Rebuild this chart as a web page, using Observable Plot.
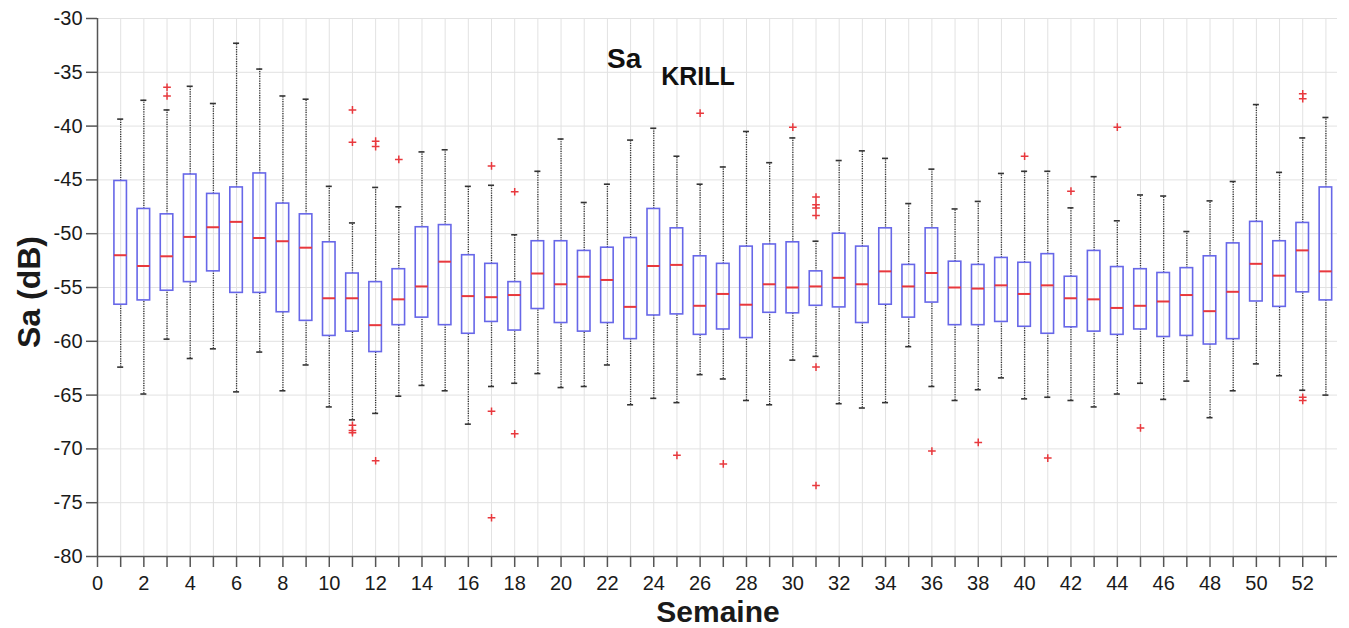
<!DOCTYPE html>
<html>
<head>
<meta charset="utf-8">
<script src="https://cdn.jsdelivr.net/npm/d3@7"></script>
<script src="https://cdn.jsdelivr.net/npm/@observablehq/plot@0.6"></script>
<style>
  html, body { margin: 0; padding: 0; background: #fff; }
  #chart { width: 1349px; height: 628px; }
</style>
</head>
<body>
<div id="chart"></div>
<script>
// ---- data ----
const weeks = d3.range(1, 54);
const whiskerHigh = [-39.35,-37.6,-38.5,-36.3,-37.9,-32.3,-34.7,-37.2,-37.5,-45.6,
  -49.0,-45.7,-47.5,-42.4,-42.2,-45.6,-45.5,-50.1,-44.2,-41.2,
  -47.1,-45.4,-41.3,-40.2,-42.8,-45.4,-43.8,-40.5,-43.4,-41.1,
  -50.7,-43.2,-42.3,-43.0,-47.2,-44.0,-47.7,-47.0,-44.4,-44.2,
  -44.2,-47.6,-44.7,-48.8,-46.4,-46.5,-49.8,-46.95,-45.15,-38.0,
  -44.3,-41.1,-39.2];
const q3 = [-45.1,-47.7,-48.2,-44.5,-46.3,-45.7,-44.4,-47.2,-48.2,-50.8,
  -53.7,-54.5,-53.3,-49.4,-49.2,-52.0,-52.8,-54.5,-50.7,-50.7,
  -51.6,-51.3,-50.4,-47.7,-49.5,-52.1,-52.8,-51.2,-51.0,-50.8,
  -53.5,-50.0,-51.2,-49.5,-52.9,-49.5,-52.6,-52.9,-52.25,-52.7,
  -51.9,-54.0,-51.6,-53.1,-53.3,-53.65,-53.2,-52.1,-50.9,-48.9,
  -50.7,-49.0,-45.7];
const median = [-52.0,-53.0,-52.1,-50.3,-49.4,-48.9,-50.4,-50.7,-51.3,-56.0,
  -56.0,-58.5,-56.1,-54.9,-52.6,-55.8,-55.9,-55.7,-53.7,-54.7,
  -54.0,-54.3,-56.8,-53.0,-52.9,-56.7,-55.6,-56.6,-54.7,-55.0,
  -54.9,-54.1,-54.7,-53.5,-54.9,-53.65,-55.0,-55.1,-54.8,-55.6,
  -54.8,-56.0,-56.1,-56.9,-56.7,-56.3,-55.7,-57.2,-55.4,-52.8,
  -53.9,-51.55,-53.5];
const q1 = [-56.6,-56.2,-55.3,-54.5,-53.5,-55.5,-55.5,-57.3,-58.1,-59.5,
  -59.1,-61.0,-58.5,-57.8,-58.5,-59.3,-58.2,-59.0,-57.0,-58.3,
  -59.1,-58.3,-59.8,-57.6,-57.5,-59.4,-58.9,-59.7,-57.35,-57.4,
  -56.7,-56.85,-58.3,-56.6,-57.8,-56.4,-58.5,-58.5,-58.2,-58.65,
  -59.3,-58.7,-59.1,-59.4,-58.9,-59.6,-59.5,-60.3,-59.8,-56.3,
  -56.8,-55.45,-56.2];
const whiskerLow = [-62.4,-64.9,-59.8,-61.6,-60.7,-64.7,-61.0,-64.6,-62.2,-66.1,
  -67.3,-66.7,-65.1,-64.1,-64.6,-67.7,-64.2,-63.9,-63.0,-64.3,
  -64.2,-62.2,-65.9,-65.3,-65.7,-63.1,-63.5,-65.5,-65.9,-61.75,
  -61.4,-65.8,-66.2,-65.7,-60.5,-64.2,-65.5,-64.5,-63.4,-65.35,
  -65.2,-65.5,-66.1,-64.9,-63.9,-65.4,-63.7,-67.1,-64.6,-62.1,
  -63.2,-64.55,-65.0];
const outlierWeek = [3,3, 11,11,11,11,11, 12,12,12, 13, 17,17,17, 18,18, 25, 26, 27, 30,
  31,31,31,31,31,31, 36, 38, 40, 41, 42, 44, 45, 52,52,52,52];
const outlierValue = [-36.4,-37.2, -38.5,-41.5,-67.8,-68.3,-68.5, -41.4,-41.9,-71.1, -43.1,
  -43.7,-66.5,-76.4, -46.1,-68.6, -70.6, -38.8, -71.4, -40.1,
  -46.6,-47.3,-47.6,-48.3,-62.4,-73.4, -70.2, -69.4, -42.8, -70.85, -46.05, -40.1, -68.05,
  -37.0,-37.45,-65.2,-65.5];
const yTicks = d3.range(-80, -29, 5);
const xTicks = d3.range(0, 54);

// ---- tables built from the arrays ----
const boxes = weeks.map((w, i) => ({week: w, lo: whiskerLow[i], q1: q1[i], med: median[i], q3: q3[i], hi: whiskerHigh[i]}));
const outliers = outlierWeek.map((w, i) => ({week: w, value: outlierValue[i]}));

const HW = 0.27;   // half box width (weeks)
const CW = 0.13;   // half cap width

const plot = Plot.plot({
  width: 1349,
  height: 628,
  marginLeft: 97,
  marginRight: 12,
  marginTop: 18,
  marginBottom: 72,
  x: {domain: [0, 53.5], axis: null},
  y: {domain: [-80, -30], axis: null},
  style: {fontFamily: "'Liberation Sans', Arial, sans-serif", background: "#fff", color: "#1a1a1a"},
  marks: [
    Plot.gridX(xTicks, {stroke: "#e2e2e2", strokeOpacity: 1}),
    Plot.gridY(yTicks, {stroke: "#e2e2e2", strokeOpacity: 1}),
    Plot.axisY(yTicks, {tickSize: 11, tickPadding: 4, fontSize: 20, label: null, stroke: "#555", strokeWidth: 1.5,
      tickFormat: d => String(d)}),
    Plot.axisX(xTicks, {tickSize: 11, tickPadding: 8, fontSize: 20, label: null, stroke: "#555", strokeWidth: 1.5,
      tickFormat: d => d % 2 === 0 ? String(d) : ""}),
    Plot.ruleX([0], {stroke: "#555", strokeWidth: 1.5}),
    Plot.ruleY([-80], {stroke: "#555", strokeWidth: 1.5}),
    // whiskers
    Plot.ruleX(boxes, {x: "week", y1: "q3", y2: "hi", stroke: "#333", strokeWidth: 1.3, strokeDasharray: "1.2,1.2"}),
    Plot.ruleX(boxes, {x: "week", y1: "lo", y2: "q1", stroke: "#333", strokeWidth: 1.3, strokeDasharray: "1.2,1.2"}),
    Plot.ruleY(boxes, {y: "hi", x1: d => d.week - CW, x2: d => d.week + CW, stroke: "#333", strokeWidth: 1.6}),
    Plot.ruleY(boxes, {y: "lo", x1: d => d.week - CW, x2: d => d.week + CW, stroke: "#333", strokeWidth: 1.6}),
    // boxes
    Plot.rect(boxes, {x1: d => d.week - HW, x2: d => d.week + HW, y1: "q1", y2: "q3", fill: "none", stroke: "#6767e8", strokeWidth: 1.6}),
    Plot.ruleY(boxes, {y: "med", x1: d => d.week - HW, x2: d => d.week + HW, stroke: "#e8383d", strokeWidth: 2}),
    // outliers
    Plot.dot(outliers, {x: "week", y: "value", symbol: "plus", stroke: "#e8383d", fill: "none", strokeWidth: 1.5, r: 2.6})
  ]
});

document.getElementById("chart").appendChild(plot);

// ---- titles and axis labels ----
const svg = d3.select(plot);
const title = svg.append("text")
  .attr("x", 607).attr("y", 68)
  .attr("text-anchor", "start")
  .attr("font-family", "'Liberation Sans', Arial, sans-serif")
  .attr("font-weight", "bold").attr("fill", "#111");
title.append("tspan").attr("font-size", 28).text("Sa");
title.append("tspan").attr("font-size", 25).attr("dx", 20).attr("dy", 17).text("KRILL");

svg.append("text")
  .attr("transform", "translate(40,292) rotate(-90)")
  .attr("text-anchor", "middle")
  .attr("font-family", "'Liberation Sans', Arial, sans-serif")
  .attr("font-weight", "bold").attr("font-size", 32).attr("fill", "#1a1a1a")
  .text("Sa (dB)");

svg.append("text")
  .attr("x", 718).attr("y", 621.5)
  .attr("text-anchor", "middle")
  .attr("font-family", "'Liberation Sans', Arial, sans-serif")
  .attr("font-weight", "bold").attr("font-size", 30).attr("fill", "#1a1a1a")
  .text("Semaine");
</script>
</body>
</html>
